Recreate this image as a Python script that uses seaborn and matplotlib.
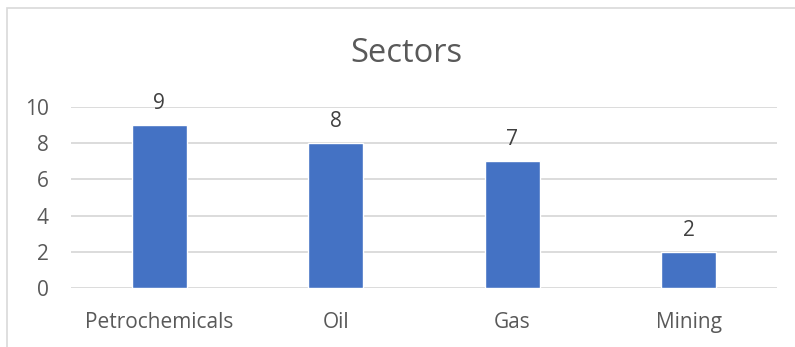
import matplotlib
matplotlib.use("Agg")
import matplotlib.pyplot as plt
import matplotlib.patches as mpatches
import seaborn as sns
import pandas as pd

categories = ["Petrochemicals", "Oil", "Gas", "Mining"]
counts = [9, 8, 7, 2]
y_ticks = [0, 2, 4, 6, 8, 10]

df = pd.DataFrame({"sector": categories, "count": counts})

sns.set_theme(style="white")
plt.rcParams["font.family"] = ["Open Sans", "DejaVu Sans"]

W, H = 795, 347
fig = plt.figure(figsize=(W / 100, H / 100), dpi=100)
ax = fig.add_axes([71 / W, 1 - 288 / H, (777 - 71) / W, (288 - 107) / H])

sns.barplot(data=df, x="sector", y="count", color="#4472C4", width=0.31,
            saturation=1, ax=ax, zorder=3)

ax.set_ylim(0, 10)
ax.set_xlim(-0.5, len(categories) - 0.5)
ax.set_yticks(y_ticks)
ax.set_yticklabels([str(t) for t in y_ticks])
for t in y_ticks:
    ax.axhline(t, color="#D9D9D9", lw=1.3, zorder=1)

for s in ax.spines.values():
    s.set_visible(False)

ax.tick_params(axis="y", length=0, pad=16, labelsize=15, labelcolor="#595959")
ax.tick_params(axis="x", length=0, pad=17, labelsize=15, labelcolor="#595959")
ax.set_xlabel("")
ax.set_ylabel("")

for i, v in enumerate(counts):
    ax.annotate(str(v), (i, v), xytext=(0, 8), textcoords="offset points",
                ha="center", va="bottom", fontsize=15, color="#404040")

fig.text(406 / W, 1 - 53 / H, "Sectors", ha="center", va="center",
         fontsize=23.5, color="#595959")

# chart frame
fig.patches.append(mpatches.Rectangle((7 / W, -0.1), 1.2, 1 - 8 / H + 0.1,
                                      transform=fig.transFigure, fill=False,
                                      edgecolor="#D9D9D9", lw=1.2))

fig.savefig("out.png", dpi=100)
